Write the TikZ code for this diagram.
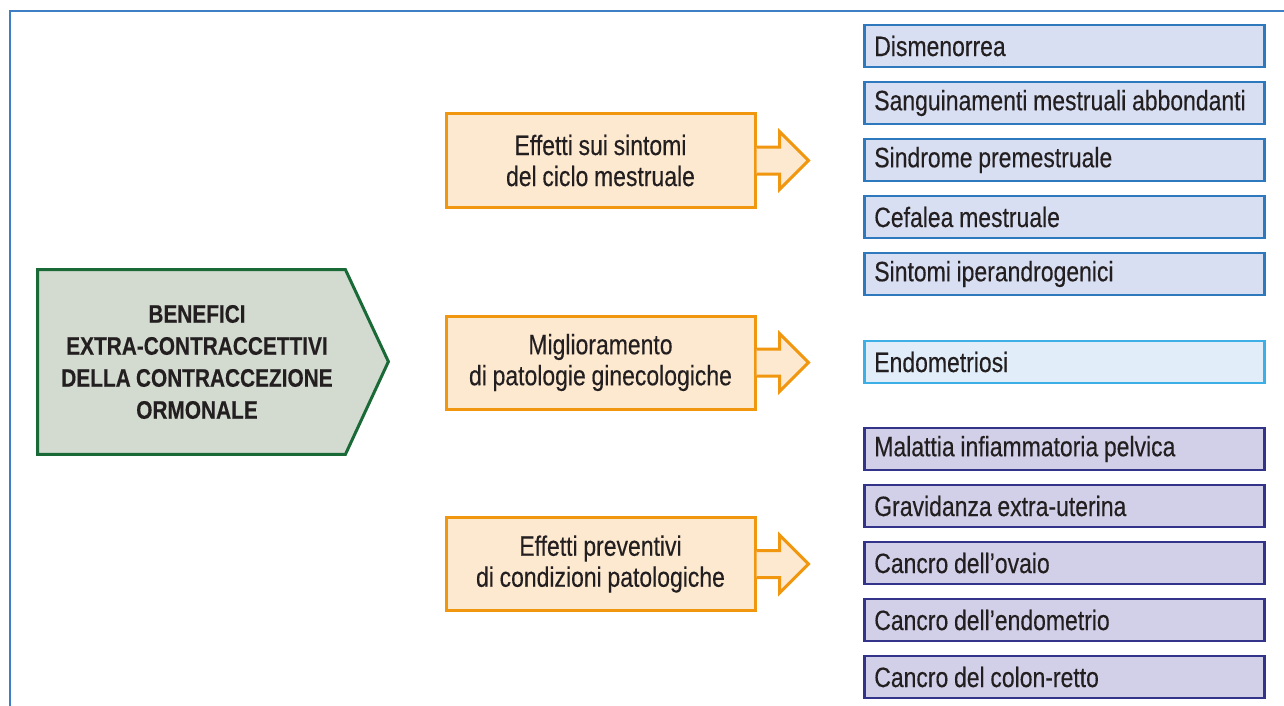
\documentclass[tikz,border=0pt]{standalone}
\usepackage{fontspec}
\setmainfont[FakeStretch=0.82, WordSpace=0.9, FakeBold=0.3, BoldFeatures={FakeBold=0.3}]{Liberation Sans}
\usepackage{xcolor}
\usepackage{tikz}
\definecolor{framecol}{HTML}{3D7EC4}
\definecolor{greenline}{HTML}{1A6A38}
\definecolor{greenfill}{HTML}{D3DBD0}
\definecolor{orangeline}{HTML}{F0960F}
\definecolor{orangefill}{HTML}{FDE9CF}
\definecolor{blueline}{HTML}{2E78BD}
\definecolor{bluefill}{HTML}{D9DFF2}
\definecolor{cyanline}{HTML}{3CB0E6}
\definecolor{cyanfill}{HTML}{E1EDF9}
\definecolor{violetline}{HTML}{33338A}
\definecolor{violetfill}{HTML}{D2D0E8}
\definecolor{inkcol}{HTML}{231F20}
\tikzset{
    mainnode/.style={rectangle, text=inkcol, minimum width=153.5pt, minimum height=92pt, align=center, font=\fontsize{12.7}{16}\selectfont\bfseries},
    mainline/.style={draw=greenline, fill=greenfill, line width=1.5pt},
    effnode/.style={rectangle, draw=orangeline, fill=orangefill, line width=1.5pt, text=inkcol, minimum width=154.5pt, minimum height=46.5pt, align=center, font=\fontsize{14}{15.5}\selectfont},
    effarrow/.style={draw=orangeline, fill=orangefill, line width=1.5pt, line join=miter},
    itemnode/.style={rectangle, anchor=west, line width=1.3pt, text=inkcol, text width=190pt, inner xsep=5pt, minimum height=21pt, align=flush left, font=\fontsize{14}{16}\selectfont},
    blueitem/.style={itemnode, draw=blueline, fill=bluefill},
    cyanitem/.style={itemnode, draw=cyanline, fill=cyanfill},
    violetitem/.style={itemnode, draw=violetline, fill=violetfill}
}

\begin{document}
\begin{tikzpicture}[x=0.5pt, y=-0.5pt]
    \useasboundingbox (0,0) rectangle (1284,706);
    \draw[framecol, line width=1.1pt] (10,706) -- (10,11) -- (1284,11);
    % main node
    \draw (191.5,362) node[mainnode] (benefici) {};
    \draw[mainline] (benefici.north west) -- (benefici.north east) -- ++(43,92) -- (benefici.south east) -- (benefici.south west) -- cycle;
    \draw (197,362) node[mainnode] (beneficitext) {BENEFICI\\EXTRA-CONTRACCETTIVI\\DELLA CONTRACCEZIONE\\ORMONALE};
    % orange boxes
    \draw (600.5,160.5) node[effnode] (sintomi) {Effetti sui sintomi\\del ciclo mestruale};
    \draw[effarrow] (sintomi.east) ++(0,-13.5) -- ++(23,0) -- ++(0,-15.5) -- ++(29,29) -- ++(-29,29) -- ++(0,-15.5) -- ++(-23,0);
    \draw (600.5,362.5) node[effnode] (patologie) {Miglioramento\\di patologie ginecologiche};
    \draw[effarrow] (patologie.east) ++(0,-13.5) -- ++(23,0) -- ++(0,-15.5) -- ++(29,29) -- ++(-29,29) -- ++(0,-15.5) -- ++(-23,0);
    \draw (600.5,564) node[effnode] (preventivi) {Effetti preventivi\\di condizioni patologiche};
    \draw[effarrow] (preventivi.east) ++(0,-13.5) -- ++(23,0) -- ++(0,-15.5) -- ++(29,29) -- ++(-29,29) -- ++(0,-15.5) -- ++(-23,0);
    % items
    \draw (863,46) node[blueitem] (dismenorrea) {Dismenorrea};
    \draw (863,103) node[blueitem] (sanguinamenti) {Sanguinamenti mestruali abbondanti};
    \draw (863,160) node[blueitem] (sindrome) {Sindrome premestruale};
    \draw (863,217) node[blueitem] (cefalea) {Cefalea mestruale};
    \draw (863,274) node[blueitem] (iperandrogenici) {Sintomi iperandrogenici};
    \draw (863,362) node[cyanitem] (endometriosi) {Endometriosi};
    \draw (863,449) node[violetitem] (malattia) {Malattia infiammatoria pelvica};
    \draw (863,506) node[violetitem] (gravidanza) {Gravidanza extra-uterina};
    \draw (863,563) node[violetitem] (ovaio) {Cancro dell’ovaio};
    \draw (863,620) node[violetitem] (endometrio) {Cancro dell’endometrio};
    \draw (863,677) node[violetitem] (colon) {Cancro del colon-retto};
\end{tikzpicture}
\end{document}
